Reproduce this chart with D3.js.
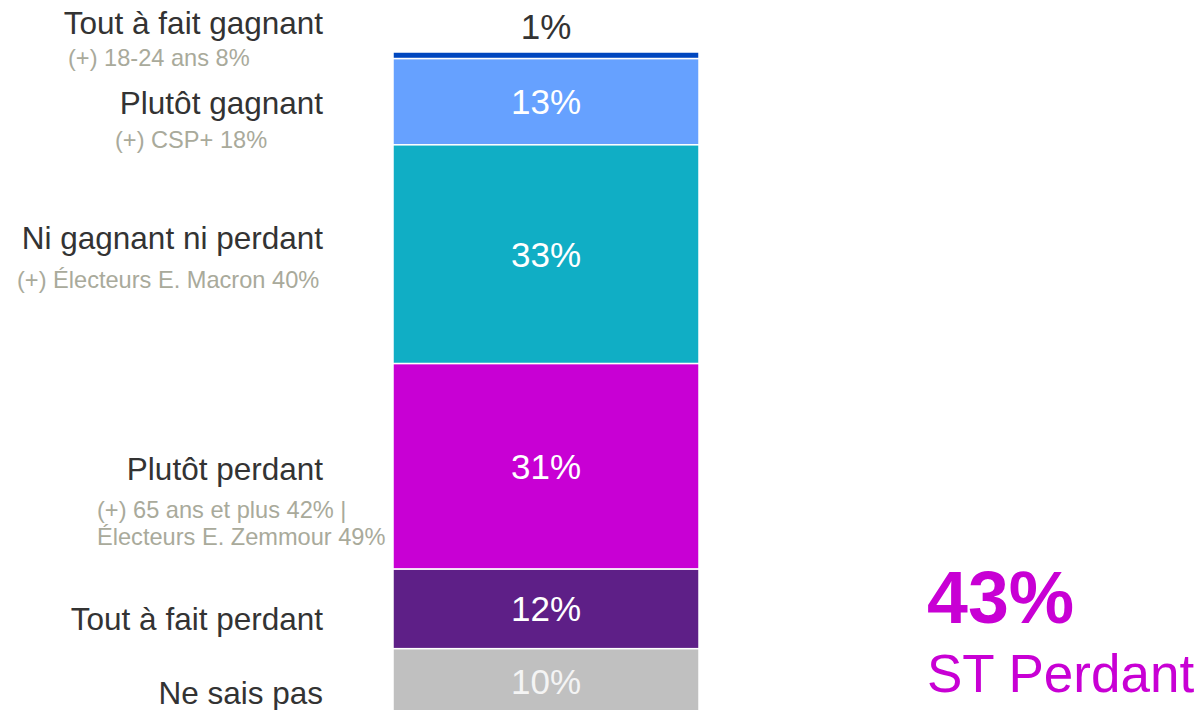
<!DOCTYPE html>
<html><head><meta charset="utf-8">
<script src="https://cdn.jsdelivr.net/npm/d3@7"></script>
<style>
html,body{margin:0;padding:0;background:#fff;overflow:hidden}
text{font-family:"Liberation Sans",Arial,sans-serif}
</style></head>
<body>
<svg id="chart" width="1201" height="710"></svg>
<script>
// ---- data ----
const categories = ["Tout à fait gagnant","Plutôt gagnant","Ni gagnant ni perdant","Plutôt perdant","Tout à fait perdant","Ne sais pas"];
const values = [1, 13, 33, 31, 12, 10];
const valueLabels = ["1%","13%","33%","31%","12%","10%"];
const subLabels = [
  ["(+) 18-24 ans 8%"],
  ["(+) CSP+ 18%"],
  ["(+) Électeurs E. Macron 40%"],
  ["(+) 65 ans et plus 42% |","Électeurs E. Zemmour 49%"],
  [],
  []
];
const colors = ["#0047BF","#66A1FF","#10AEC5","#C800D4","#5E1F87","#C0C0C0"];
const summaryValue = "43%";
const summaryLabel = "ST Perdant";

// ---- layout ----
const svg = d3.select("#chart");
const y = d3.scaleLinear().domain([0,100]).range([52,715]);
const x = d3.scaleBand().domain(["bar"]).range([393,699]).padding(0);

let cum = 0;
const segs = values.map((v,i)=>{const s={i,v,y0:cum,y1:cum+v};cum+=v;return s;});

svg.selectAll("rect.seg").data(segs).enter().append("rect")
  .attr("x", x("bar")).attr("width", x.bandwidth())
  .attr("y", d=>y(d.y0)).attr("height", d=>y(d.y1)-y(d.y0))
  .attr("fill", d=>colors[d.i])
  .attr("stroke","#fff").attr("stroke-width",1.5);

// value labels
svg.selectAll("text.val").data(segs).enter().append("text")
  .attr("x", x("bar")+x.bandwidth()/2)
  .attr("y", d=> d.i===0 ? y(d.y0)-13 : (y(d.y0)+y(d.y1))/2 + 12.5)
  .attr("text-anchor","middle")
  .attr("font-size", 35)
  .attr("fill", d=> d.i===0 ? "#333" : (d.i===5 ? "#f4f4f4" : "#fff"))
  .text(d=>valueLabels[d.i]);

// category labels (baseline offsets from segment midpoints)
const labelDy = [-21, 12, -5, 14, 21, 22];
svg.selectAll("text.cat").data(segs).enter().append("text")
  .attr("x", 323)
  .attr("y", d=> (y(d.y0)+y(d.y1))/2 + labelDy[d.i])
  .attr("text-anchor","end")
  .attr("font-size", 31.5)
  .attr("fill","#333")
  .text(d=>categories[d.i]);

// sub labels
const subX = [68, 115, 17, 97, 0, 0];
const subDy = [32, 34, 39, 38, 0, 0];
segs.forEach(d=>{
  const base = (y(d.y0)+y(d.y1))/2 + labelDy[d.i] + subDy[d.i];
  subLabels[d.i].forEach((t,k)=>{
    svg.append("text").attr("x", subX[d.i]).attr("y", base + k*27)
      .attr("font-size", 23.6).attr("fill","#A9AA9B").text(t);
  });
});

// summary
svg.append("text").attr("x",927).attr("y",623)
  .attr("font-size",73.5).attr("font-weight","bold").attr("fill","#C800D4").text(summaryValue);
svg.append("text").attr("x",927).attr("y",692)
  .attr("font-size",53).attr("fill","#C800D4").text(summaryLabel);
</script>
</body></html>
